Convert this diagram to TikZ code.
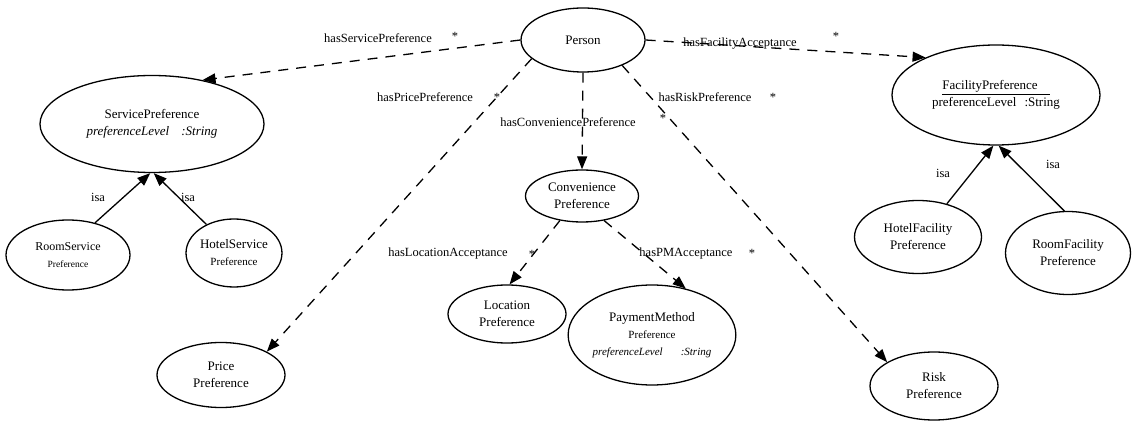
\documentclass[tikz,border=0pt]{standalone}
\usepackage{fontspec}
\setmainfont{Liberation Serif}
\usetikzlibrary{shapes.geometric,arrows.meta}

\begin{document}
\begin{tikzpicture}[x=1pt,y=-1pt,
		concept/.style={draw,ellipse,line width=1.3pt,inner sep=0pt,align=center,font=\fontsize{13}{17}\selectfont},
		rel/.style={line width=1.3pt,dash pattern=on 10pt off 8pt,-{Triangle[length=13pt,width=10pt]}},
		isa/.style={line width=1.3pt,-{Triangle[length=13pt,width=10pt]}},
		lbl/.style={inner sep=0pt,font=\fontsize{12.5}{14}\selectfont}]
		\useasboundingbox (0,0) rectangle (1132,435);
		% classes
		\node[concept,minimum width=124pt,minimum height=64pt] (person) at (583,40) {Person};
		\node[concept,minimum width=224pt,minimum height=97pt] (service) at (152,124) {ServicePreference\\\textit{preferenceLevel\hspace{12pt}:String}};
		\node[concept,minimum width=124pt,minimum height=70pt] (roomsvc) at (68,255) {{\fontsize{12}{15}\selectfont RoomService}\\{\fontsize{9.5}{12}\selectfont Preference}};
		\node[concept,minimum width=88pt,minimum height=68pt] (hotelsvc) at (234,253) {HotelService\\{\fontsize{11}{13}\selectfont Preference}};
		\node[concept,minimum width=128pt,minimum height=65pt] (price) at (221,375) {Price\\Preference};
		\node[concept,minimum width=113pt,minimum height=52pt] (conv) at (582,196) {Convenience\\Preference};
		\node[concept,minimum width=118pt,minimum height=58pt] (location) at (507,314) {Location\\Preference};
		\node[concept,minimum width=128pt,minimum height=100pt] (payment) at (652,335) {PaymentMethod\\{\fontsize{11}{14}\selectfont Preference}\\{\fontsize{11}{14}\selectfont\itshape preferenceLevel\hspace{18pt}:String}};
		\node[concept,minimum width=128pt,minimum height=68pt] (risk) at (934,386) {Risk\\Preference};
		\node[concept,minimum width=208pt,minimum height=100pt] (facility) at (996,95) {\underline{FacilityPreference\hspace{12pt}}\\preferenceLevel\hspace{8pt}:String};
		\node[concept,minimum width=127pt,minimum height=73pt] (hotelfac) at (918,237) {HotelFacility\\Preference};
		\node[concept,minimum width=125pt,minimum height=83pt] (roomfac) at (1068,253) {RoomFacility\\Preference};
		% relations
		\draw[rel] (person.west) -- (service.41);
		\draw[rel] (person.200) -- (price.27);
		\draw[rel] (person.south) -- (conv.north);
		\draw[rel] (person.327) -- (risk.153);
		\draw[rel] (person.east) -- (facility.152);
		\draw[rel] (conv.228) -- (location.85);
		\draw[rel] (conv.312) -- (payment.54);
		\draw[isa] (roomsvc.50) -- (service.268);
		\draw[isa] (hotelsvc.134) -- (service.272);
		\draw[isa] (hotelfac.49) -- (facility.267);
		\draw[isa] (roomfac.95) -- (facility.273);
		% labels
		\node[lbl] (lserv) at (378,38) {hasServicePreference};
		\node[lbl] (sserv) at (455,36) {*};
		\node[lbl] (lprice) at (425,97) {hasPricePreference};
		\node[lbl] (sprice) at (497,97) {*};
		\node[lbl] (lconv) at (568,122) {hasConveniencePreference};
		\node[lbl] (sconv) at (663,118) {*};
		\node[lbl] (lrisk) at (705,97) {hasRiskPreference};
		\node[lbl] (srisk) at (773,97) {*};
		\node[lbl] (lfac) at (740,44) {hasFacilityAcceptance};
		\node[lbl] (sfac) at (836,36) {*};
		\node[lbl] (lloc) at (448,253) {hasLocationAcceptance};
		\node[lbl] (sloc) at (532,254) {*};
		\node[lbl] (lpm) at (686,253) {hasPMAcceptance};
		\node[lbl] (spm) at (752,253) {*};
		\node[lbl] (isa1) at (98,197) {isa};
		\node[lbl] (isa2) at (188,197) {isa};
		\node[lbl] (isa3) at (943,173) {isa};
		\node[lbl] (isa4) at (1053,164) {isa};
\end{tikzpicture}
\end{document}
